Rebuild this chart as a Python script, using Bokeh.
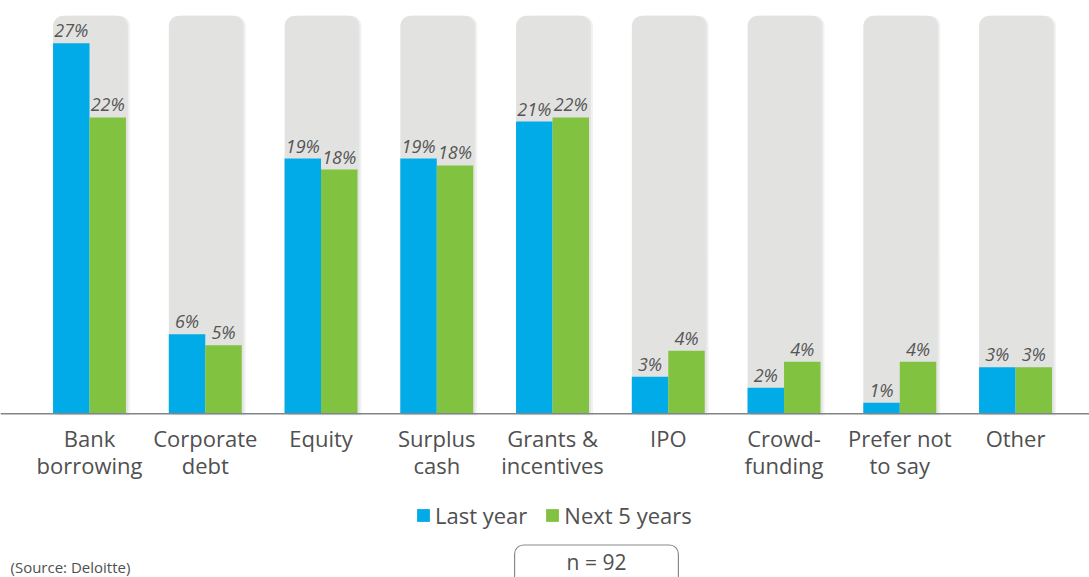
import numpy as np
from bokeh.plotting import figure
from bokeh.models import ColumnDataSource, Range1d, Span, Label, Legend, LegendItem
from bokeh.transform import dodge
from bokeh.core.properties import value
from bokeh.embed import file_html
from bokeh.resources import INLINE

# ---- data -------------------------------------------------------------
categories = ["Bank\nborrowing", "Corporate\ndebt", "Equity", "Surplus\ncash",
              "Grants &\nincentives", "IPO", "Crowd-\nfunding", "Prefer not\nto say", "Other"]
last_year = [27.0, 5.8, 18.6, 18.6, 21.3, 2.7, 1.9, 0.8, 3.4]
next_5_years = [21.6, 5.0, 17.8, 18.1, 21.6, 4.6, 3.8, 3.8, 3.4]
last_year_labels = ["27%", "6%", "19%", "19%", "21%", "3%", "2%", "1%", "3%"]
next_5_years_labels = ["22%", "5%", "18%", "18%", "22%", "4%", "4%", "4%", "3%"]
series_names = ["Last year", "Next 5 years"]
scale_max = 29
sample_label = "n = 92"
source_note = "(Source: Deloitte)"

# ---- styling ----------------------------------------------------------
BLUE = "#00abe7"
GREEN = "#81c241"
BG = "#e2e3e1"
TXT = "#505050"
FONT = "Open Sans"

idx = np.arange(len(categories))
src = ColumnDataSource(dict(
    idx=idx, cat=categories, last=last_year, nxt=next_5_years,
    last_lbl=last_year_labels, nxt_lbl=next_5_years_labels,
    top=[scale_max] * len(categories),
))

p = figure(width=1089, height=577, output_backend="svg", toolbar_location=None,
           x_range=Range1d(-0.769, 8.639), y_range=Range1d(-11.93, 30.12),
           x_axis_location=None, y_axis_location=None, min_border=0,
           tools="")
p.grid.visible = False
p.outline_line_color = None
p.background_fill_color = "white"

BW = 0.63
# soft shadow of background columns
p.vbar(x=dodge("idx", 0.035, range=p.x_range), width=BW, top="top", bottom=-0.12, source=src,
       fill_color="#000000", fill_alpha=0.05, line_color=None, border_radius=(10, 10, 0, 0))
p.vbar(x=dodge("idx", 0.018, range=p.x_range), width=BW, top="top", bottom=-0.06, source=src,
       fill_color="#000000", fill_alpha=0.06, line_color=None, border_radius=(10, 10, 0, 0))
# background columns
p.vbar(x="idx", width=BW, top="top", bottom=0, source=src,
       fill_color=BG, line_color=None, border_radius=(10, 10, 0, 0))

off = 0.1575
r_last = p.vbar(x=dodge("idx", -off, range=p.x_range), width=0.315, top="last", bottom=0,
                source=src, fill_color=BLUE, line_color=None)
r_next = p.vbar(x=dodge("idx", off, range=p.x_range), width=0.315, top="nxt", bottom=0,
                source=src, fill_color=GREEN, line_color=None)

# value labels
for col, lbl, o in (("last", "last_lbl", -off), ("nxt", "nxt_lbl", off)):
    p.text(x=dodge("idx", o, range=p.x_range), y=col, text=lbl, source=src,
           text_font=value(FONT), text_font_style="italic", text_font_size="18px",
           text_color="#555555", text_align="center", text_baseline="bottom", y_offset=-1)

# baseline
p.add_layout(Span(location=0, dimension="width", line_color="#7f8588", line_width=1.5))

# category labels
p.text(x="idx", y=0, text="cat", source=src, text_font=value(FONT), text_font_size="22px",
       text_color=TXT, text_align="center", text_baseline="top", y_offset=9,
       text_line_height=0.9)

# legend
legend = Legend(items=[LegendItem(label=series_names[0], renderers=[r_last]),
                       LegendItem(label=series_names[1], renderers=[r_next])],
                orientation="horizontal", location=(415, 47),
                glyph_width=16, glyph_height=16, label_standoff=4, spacing=17,
                padding=0, margin=0, border_line_color=None, background_fill_alpha=0,
                label_text_font=FONT, label_text_font_size="22px", label_text_color=TXT)
p.add_layout(legend)

# sample size box
p.add_layout(Label(x=596, y=11, x_units="screen", y_units="screen", text=sample_label,
                   text_font=FONT, text_font_size="21px", text_color=TXT,
                   text_align="center", text_baseline="middle",
                   border_line_color="#8a8a8a", border_line_width=1.2,
                   border_radius=9, background_fill_color="white",
                   padding=dict(left=52, right=52, top=3, bottom=12)))

# source note
p.add_layout(Label(x=10, y=1, x_units="screen", y_units="screen", text=source_note,
                   text_font=FONT, text_font_size="15px", text_color=TXT,
                   text_align="left", text_baseline="bottom"))

open("out.html", "w").write(file_html(p, INLINE))
